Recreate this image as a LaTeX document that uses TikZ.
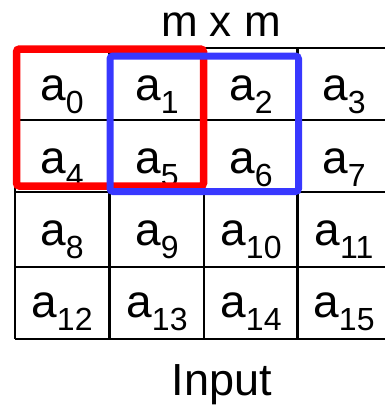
\documentclass[tikz,border=0pt]{standalone}
\usepackage{fontspec}
\setmainfont{Liberation Sans}
\tikzset{
  gridline/.style={line width=2.2pt, black},
  cellnum/.style={anchor=base, inner sep=0pt, outer sep=0pt},
  caption/.style={anchor=base, inner sep=0pt, font=\fontsize{45}{45}\selectfont},
  windowA/.style={draw=red, line width=7.5pt, rounded corners=3pt},
  windowB/.style={draw=blue!78!white, line width=7pt, rounded corners=3pt},
}
% element a_k: large letter with a lowered index
\newcommand{\elem}[1]{{\fontsize{46}{46}\selectfont a}\raisebox{-13pt}{\fontsize{32}{32}\selectfont #1}}
\begin{document}
\begin{tikzpicture}[x=1pt, y=-1pt]
  \useasboundingbox (0,0) rectangle (385,407);
  \clip (0,0) rectangle (385,407);

  % grid of the m x m input
  \foreach \yy in {48,120,192,267,339}
    \draw[gridline] (15,\yy) -- (392,\yy);
  \foreach \xx in {15,109.5,204,297.5,391}
    \draw[gridline] (\xx,48) -- (\xx,339);

  % cell contents
  \foreach \r/\yy in {0/100,1/173,2/245,3/317}
    \foreach \c/\xx in {0/62,1/157,2/251,3/344} {
      \pgfmathtruncatemacro{\k}{4*\r+\c}
      \node[cellnum] (c\k) at (\xx,\yy) {\elem{\k}};
    }

  % two overlapping 2x2 windows
  \draw[windowA] (16.5,49) rectangle (203.5,186);
  \draw[windowB] (110,56) rectangle (298.5,191.5);

  % labels
  \node[caption, font=\fontsize{44}{44}\selectfont] (title) at (221,36.7) {m x m};
  \node[caption] (label) at (222,395) {Input};
\end{tikzpicture}
\end{document}
